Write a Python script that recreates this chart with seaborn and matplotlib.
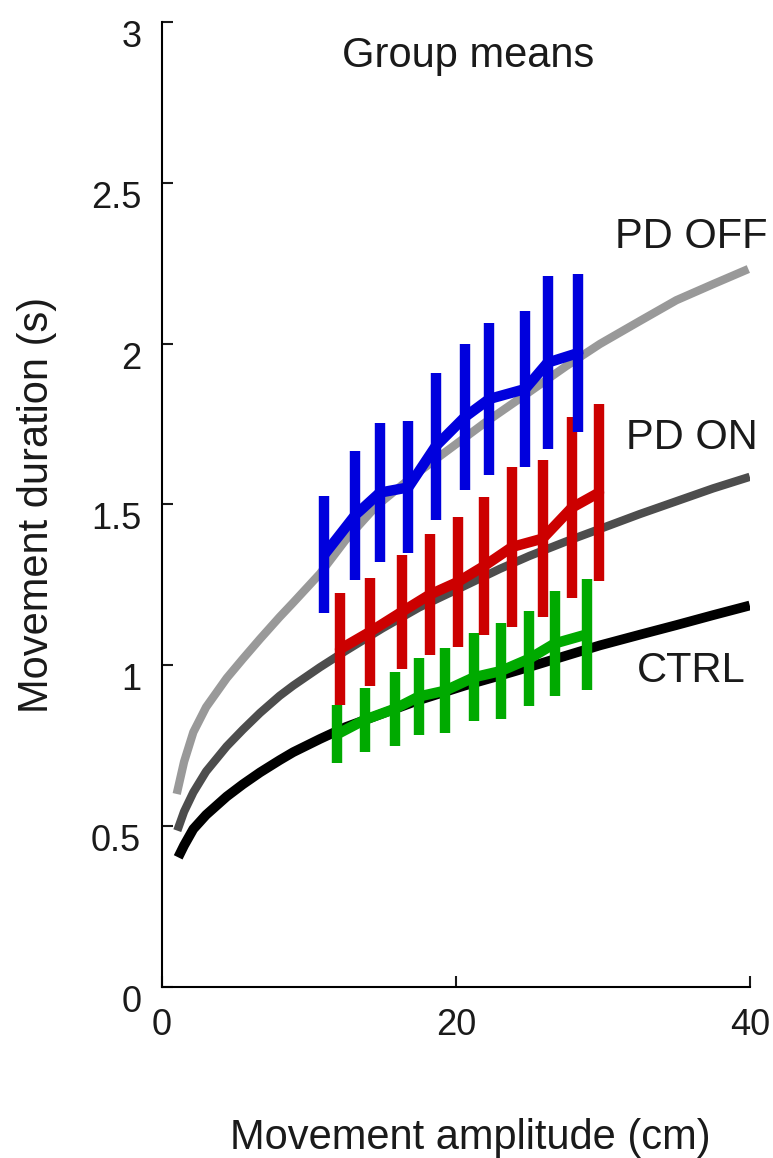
import numpy as np
import pandas as pd
import matplotlib
matplotlib.use("Agg")
import matplotlib.pyplot as plt
import matplotlib.transforms as mtransforms
import seaborn as sns

# fitted curves
off_x = [1.0, 1.5, 2.13, 3.0, 4.4, 5.5, 6.67, 8.0, 8.93, 10.75, 12.5, 14.6, 17.0, 18.9,
         22.0, 25.0, 27.5, 29.8, 32.5, 35.0, 37.5, 39.9]
off_y = [0.600, 0.700, 0.792, 0.870, 0.960, 1.020, 1.082, 1.150, 1.195, 1.285, 1.390, 1.496,
         1.585, 1.650, 1.755, 1.850, 1.930, 1.999, 2.070, 2.135, 2.185, 2.232]
on_x = [1.04, 1.5, 2.13, 3.0, 4.4, 5.5, 6.67, 8.0, 8.93, 10.75, 12.5, 15.0, 17.5, 20.5,
        23.0, 25.0, 27.5, 29.8, 32.5, 35.0, 37.5, 40.0]
on_y = [0.486, 0.545, 0.605, 0.670, 0.748, 0.800, 0.852, 0.905, 0.937, 0.994, 1.045, 1.115,
        1.180, 1.245, 1.300, 1.340, 1.385, 1.424, 1.470, 1.510, 1.550, 1.586]
ctrl_x = [1.1, 1.5, 2.13, 3.0, 4.4, 5.5, 6.67, 8.0, 8.93, 10.75, 12.5, 15.0, 17.5, 20.6,
          23.0, 25.0, 27.5, 29.8, 32.5, 35.0, 37.5, 40.0]
ctrl_y = [0.403, 0.440, 0.491, 0.535, 0.592, 0.630, 0.667, 0.705, 0.730, 0.771, 0.808, 0.850,
          0.892, 0.937, 0.968, 0.995, 1.030, 1.062, 1.095, 1.125, 1.156, 1.186]

# group means +/- error
blue_x = [11.04, 13.13, 14.83, 16.76, 18.62, 20.61, 22.27, 24.71, 26.24, 28.32]
blue_m = [1.344, 1.466, 1.537, 1.553, 1.681, 1.772, 1.828, 1.859, 1.941, 1.971]
blue_e = [0.182, 0.201, 0.216, 0.205, 0.228, 0.226, 0.237, 0.244, 0.268, 0.245]

red_x = [12.11, 14.15, 16.31, 18.23, 20.12, 21.93, 23.83, 25.90, 27.89, 29.74]
red_m = [1.050, 1.104, 1.166, 1.220, 1.259, 1.309, 1.368, 1.394, 1.490, 1.537]
red_e = [0.174, 0.167, 0.178, 0.188, 0.203, 0.214, 0.250, 0.245, 0.282, 0.274]

green_x = [11.93, 13.81, 15.85, 17.48, 19.25, 21.24, 23.04, 24.97, 26.73, 28.89]
green_m = [0.786, 0.831, 0.865, 0.903, 0.921, 0.963, 0.982, 1.020, 1.068, 1.096]
green_e = [0.091, 0.099, 0.115, 0.120, 0.132, 0.137, 0.149, 0.148, 0.162, 0.173]

sns.set_style("ticks")
plt.rcParams['font.family'] = ['Liberation Sans', 'DejaVu Sans']

fig = plt.figure(figsize=(7.73, 11.58), dpi=100)
ax = fig.add_axes([0.2096, 0.1477, 0.7604, 0.8333])

# curves
for xs, ys, col, lw in [(off_x, off_y, '#999999', 6.0),
                        (on_x, on_y, '#4d4d4d', 6.0),
                        (ctrl_x, ctrl_y, 'black', 7.0)]:
    sns.lineplot(x=xs, y=ys, color=col, linewidth=lw, ax=ax, sort=False,
                 estimator=None, solid_capstyle='butt')

# group means with error bars
for xs, ms, es, col in [(green_x, green_m, green_e, '#00aa00'),
                        (red_x, red_m, red_e, '#cc0000'),
                        (blue_x, blue_m, blue_e, '#0000dd')]:
    ax.errorbar(xs, ms, yerr=es, fmt='none', ecolor=col, elinewidth=7.5, capsize=0)
    sns.lineplot(x=xs, y=ms, color=col, linewidth=7.5, ax=ax, sort=False, estimator=None)

ax.set_xlim(0, 40)
ax.set_ylim(0, 3)
ax.set_xticks([0, 20, 40])
ax.set_xticklabels(['0', '20', '40'])
ax.set_yticks([0, 0.5, 1, 1.5, 2, 2.5, 3])
ax.set_yticklabels(['0', '0.5', '1', '1.5', '2', '2.5', '3'])
ax.tick_params(axis='both', direction='in', length=8, width=1.5, labelsize=26,
               colors='#1a1a1a')
ax.tick_params(axis='x', pad=15)
ax.tick_params(axis='y', pad=15)
off = mtransforms.ScaledTranslation(0, -25 / 100, fig.dpi_scale_trans)
for lab in ax.get_yticklabels():
    lab.set_verticalalignment('baseline')
    lab.set_transform(lab.get_transform() + off)

for side in ['top', 'right']:
    ax.spines[side].set_visible(False)
for side in ['left', 'bottom']:
    ax.spines[side].set_linewidth(1.5)
    ax.spines[side].set_color('black')

ax.set_xlabel('Movement amplitude (cm)', fontsize=30, labelpad=54, color='#1a1a1a')
ax.xaxis.label.set_x(0.525)
ax.set_ylabel('Movement duration (s)', fontsize=30, labelpad=24, color='#1a1a1a')

ax.text(0.52, 0.985, 'Group means', transform=ax.transAxes, ha='center', va='top',
        fontsize=30, color='#1a1a1a')
ax.text(30.8, 2.297, 'PD OFF', ha='left', va='baseline', fontsize=30, color='#1a1a1a',
        clip_on=False)
ax.text(31.6, 1.672, 'PD ON', ha='left', va='baseline', fontsize=30, color='#1a1a1a',
        clip_on=False)
ax.text(32.3, 0.948, 'CTRL', ha='left', va='baseline', fontsize=30, color='#1a1a1a',
        clip_on=False)

fig.savefig('out.png', dpi=100)
